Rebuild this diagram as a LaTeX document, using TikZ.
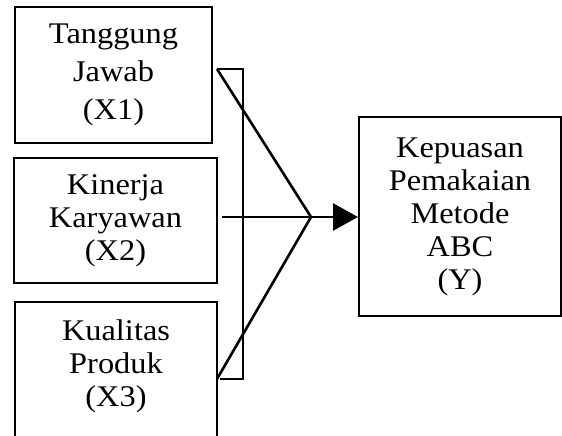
\documentclass[tikz,border=0pt]{standalone}
\usepackage{fontspec}
\setmainfont{Liberation Serif}[FakeStretch=1.08]
\usetikzlibrary{arrows.meta}
\begin{document}
\begin{tikzpicture}[x=1pt,y=-1pt,
  box/.style={draw,line width=2pt,rectangle,align=center,inner sep=0pt},
  txt/.style={font=\fontsize{30}{33}\selectfont},
  conn/.style={line width=2.6pt}]
\useasboundingbox (0,0) rectangle (562,436);
\node[box,txt,font=\fontsize{30}{38}\selectfont,minimum width=197pt,minimum height=136pt] (b1) at (113.5,75) {Tanggung\\Jawab\\(X1)};
\node[box,txt,minimum width=203pt,minimum height=125pt] (b2) at (115.5,220.5) {Kinerja\\Karyawan\\(X2)};
\node[txt,align=center,inner sep=0pt] (b3) at (116,366) {Kualitas\\Produk\\(X3)};
\draw[line width=2pt] (15,440) -- (15,302) -- (217,302) -- (217,440);
\node[box,txt,minimum width=202pt,minimum height=199pt] (by) at (460,216.5) {Kepuasan\\Pemakaian\\Metode\\ABC\\(Y)};
\coordinate (t1) at (217,69);
\coordinate (t3) at (217,379);
\coordinate (j) at (311,217);
\draw[line width=2pt] (t1) -- (243,69) -- (243,379) -- (220,379);
\draw[conn] (t1) -- (j) -- (t3);
\draw[conn,-{Triangle[length=25pt,width=27pt]}] ([xshift=4pt]b2.east |- j) -- (by.west |- j);
\end{tikzpicture}
\end{document}
